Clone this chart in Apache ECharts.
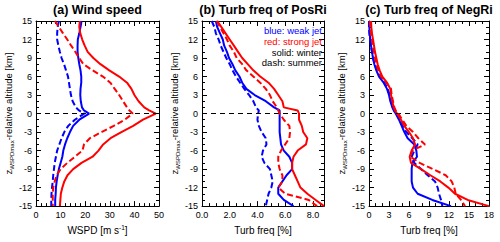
<!DOCTYPE html>
<html><head><meta charset="utf-8">
<script src="https://cdn.jsdelivr.net/npm/echarts@6/dist/echarts.min.js"></script>
<style>html,body{margin:0;padding:0;background:#fff}#c{width:500px;height:242px}</style>
</head><body><div id="c"></div>
<script>
// altitudes (km, relative to WSPDmax level)
const ALT = [15,14,13,12,11,10,9,8,7,6,5,4,3,2,1,0.5,0,-1,-2,-3,-4,-5,-6,-7,-8,-9,-10,-11,-12,-13,-14,-15];

// (a) Wind speed [m s-1]
const aWeakWinter   = [18.5,18.1,17.6,17.0,16.9,16.9,17.2,17.6,18.1,18.4,18.4,18.1,18.0,18.2,18.7,19.5,21.6,17.6,15.1,13.8,12.7,11.8,11.1,10.7,10.0,9.3,8.8,8.4,8.1,8.0,7.8,7.8];
const aWeakSummer   = [9.3,8.8,8.6,8.6,9.1,9.7,10.4,11.4,12.2,13.0,13.4,13.8,14.2,14.9,16.2,17.5,19.6,15.8,13.1,11.5,10.4,9.5,8.6,8.1,7.6,7.3,7.0,6.8,6.5,6.3,6.2,6.2];
const aStrongWinter = [17.8,17.6,18.0,18.8,19.8,21.0,23.3,26.2,29.8,33.8,37.0,38.8,40.0,41.7,44.0,46.0,48.7,43.5,39.5,34.7,30.3,27.3,25.4,23.0,18.5,15.1,12.8,11.5,10.7,10.1,9.9,9.7];
const aStrongSummer = [7.7,9.3,11.0,12.7,14.3,16.0,17.5,19.3,23.0,27.2,30.2,32.0,33.8,35.4,37.0,38.0,39.3,36.1,31.6,26.6,21.9,19.5,18.9,15.8,12.7,10.0,8.4,7.6,7.0,6.8,6.8,6.8];

// (b) Turb freq of PosRi [%]
const bWeakWinter   = [1.0,1.1,1.3,1.5,1.6,1.8,1.95,2.2,2.4,2.7,2.9,3.2,3.8,4.6,5.2,5.6,5.6,5.6,5.6,5.6,5.65,5.7,5.9,6.3,6.5,6.5,6.1,5.8,5.5,5.5,5.9,6.6];
const bWeakSummer   = [0.7,0.9,1.0,1.2,1.35,1.55,1.75,2.0,2.2,2.45,2.75,3.05,3.4,3.7,3.9,4.1,4.05,4.0,4.1,4.3,4.6,4.65,4.4,4.3,4.5,4.9,5.0,5.1,5.0,4.8,4.7,4.6];
const bStrongWinter = [1.1,1.4,1.7,2.0,2.3,2.6,2.9,3.3,3.7,4.2,4.8,5.2,5.5,5.8,5.9,6.9,7.0,7.0,7.2,7.3,7.6,7.5,6.9,6.6,6.5,6.5,6.7,6.9,7.1,7.6,8.2,8.8];
const bStrongSummer = [1.07,1.3,1.55,1.8,2.0,2.3,2.5,2.9,3.2,3.7,4.2,4.6,4.9,5.1,5.4,5.5,5.6,5.9,6.3,6.35,6.3,6.0,5.7,5.5,5.5,5.6,5.8,5.8,5.5,6.0,7.7,8.3];

// (c) Turb freq of NegRi [%]
const cWeakWinter   = [0.0,0.05,0.1,0.2,0.3,0.45,0.6,0.8,1.1,1.5,2.2,2.7,3.0,3.2,3.5,3.7,4.0,4.5,4.9,5.3,5.8,6.8,7.1,7.2,6.5,6.4,6.4,6.4,6.6,7.3,9.5,12.3];
const cWeakSummer   = [0.0,0.0,0.05,0.15,0.3,0.45,0.6,0.85,1.2,1.6,2.3,2.8,3.1,3.3,3.6,3.8,4.1,4.6,5.0,5.6,6.5,7.3,6.8,6.4,6.8,7.8,8.8,9.9,10.3,10.5,10.8,11.0];
const cStrongWinter = [0.3,0.35,0.45,0.6,0.75,0.9,1.1,1.3,1.6,2.0,2.7,3.2,3.3,3.5,3.7,3.9,4.2,4.8,5.3,6.0,6.6,6.9,6.4,6.1,6.3,7.8,9.2,10.7,11.9,12.9,14.8,18.0];
const cStrongSummer = [0.1,0.2,0.3,0.45,0.6,0.75,0.9,1.1,1.4,1.8,2.6,3.3,3.4,3.6,3.8,4.0,4.4,5.0,5.6,6.6,7.4,8.4,6.5,6.2,7.6,9.6,11.5,12.4,12.8,13.0,13.8,14.4];

const TITLES = ['(a) Wind speed','(b) Turb freq of PosRi','(c) Turb freq of NegRi'];
const XNAMES = ['WSPD [m s{sup|-1}]','Turb freq [%]','Turb freq [%]'];
const LEGEND_TEXT = ['blue: weak jet','red: strong jet','solid: winter','dash: summer'];
const LEGEND_COLOR = ['#0000ff','#ff0000','#000000','#000000'];

const FONT = 'Liberation Sans, Arial, Helvetica, sans-serif';
const BLUE = '#0000ff', RED = '#ff0000';

const grids = [
  {left:36, top:21, width:123, height:186},
  {left:202, top:21, width:122, height:186},
  {left:369, top:21, width:120, height:186}
];
const xCfg = [
  {min:0, max:50, interval:10, minor:5, fmt:v=>String(v)},
  {min:0, max:8.8, interval:2, minor:4, fmt:v=>v.toFixed(1)},
  {min:0, max:18, interval:3, minor:3, fmt:v=>String(v)}
];
const panelData = [
  [aWeakWinter,aWeakSummer,aStrongWinter,aStrongSummer],
  [bWeakWinter,bWeakSummer,bStrongWinter,bStrongSummer],
  [cWeakWinter,cWeakSummer,cStrongWinter,cStrongSummer]
];

const pairs = vals => vals.map((v,i)=>[v, ALT[i]]);
const tickLine = {color:'#000', width:1};

const xAxis = [], yAxis = [], series = [], graphic = [];
grids.forEach((g,i)=>{
  const c = xCfg[i];
  const common = {gridIndex:i, type:'value', min:c.min, max:c.max, interval:c.interval,
    axisLine:{show:true, onZero:false, lineStyle:tickLine},
    axisTick:{show:true, inside:true, length:5, lineStyle:tickLine},
    minorTick:{show:true, splitNumber:c.minor, length:3, lineStyle:tickLine},
    splitLine:{show:false}, minorSplitLine:{show:false}};
  xAxis.push(Object.assign({}, common, {position:'bottom',
    axisLabel:{show:true, fontSize:9, color:'#000', fontFamily:FONT, margin:4, formatter:c.fmt, showMaxLabel: i!==1},
    name: XNAMES[i], nameLocation:'middle', nameGap:17,
    nameTextStyle:{fontSize:10, color:'#000', fontFamily:FONT, lineHeight:13,
      rich:{sup:{fontSize:6.5, verticalAlign:'top', color:'#000', fontFamily:FONT, lineHeight:13}}}}));
  xAxis.push(Object.assign({}, common, {position:'top', axisLabel:{show:false}}));
  const ycommon = {gridIndex:i, type:'value', min:-15, max:15, interval:3,
    axisLine:{show:true, onZero:false, lineStyle:tickLine},
    axisTick:{show:true, inside:true, length:5, lineStyle:tickLine},
    minorTick:{show:true, splitNumber:3, length:3, lineStyle:tickLine},
    splitLine:{show:false}, minorSplitLine:{show:false}};
  yAxis.push(Object.assign({}, ycommon, {position:'left',
    axisLabel:{show:true, fontSize:9, color:'#000', fontFamily:FONT, margin:4},
    name:'{m|z}{s|WSPDmax}{m|-relative altitude [km]}', nameLocation:'middle', nameGap:21, nameRotate:90,
    nameTextStyle:{color:'#000', fontFamily:FONT, fontSize:9.5,
      rich:{m:{fontSize:9.5, fontFamily:FONT, color:'#000', lineHeight:13},
            s:{fontSize:6, fontFamily:FONT, color:'#000', verticalAlign:'bottom', lineHeight:13}}}}));
  yAxis.push(Object.assign({}, ycommon, {position:'right', axisLabel:{show:false}}));

  const styles = [[BLUE,'solid'],[BLUE,[6,3]],[RED,'solid'],[RED,[6,3]]];
  panelData[i].forEach((vals,k)=>{
    const s = {type:'line', xAxisIndex:2*i, yAxisIndex:2*i, data:pairs(vals),
      showSymbol:false, symbol:'none', smooth:false, animation:false, silent:true,
      lineStyle:{color:styles[k][0], width:2, type:styles[k][1]},
      itemStyle:{color:styles[k][0]}, z:2+k};
    if(k===0){
      s.markLine = {silent:true, symbol:['none','none'], label:{show:false}, animation:false,
        lineStyle:{color:'#000', type:[5,4], width:1}, data:[{yAxis:0}]};
    }
    series.push(s);
  });
  graphic.push({type:'text', x: g.left + g.width/2, y:10, z:10,
    style:{text:TITLES[i], font:'bold 12.5px '+FONT, fill:'#000', textAlign:'center', textVerticalAlign:'middle'}});
});
// legend text in panel (b), right aligned
LEGEND_TEXT.forEach((t,j)=>{
  graphic.push({type:'text', x: 322, y: 30.5 + j*10.8, z:10,
    style:{text:t, font:'9.5px '+FONT, fill:LEGEND_COLOR[j], textAlign:'right', textVerticalAlign:'middle'}});
});

const chart = echarts.init(document.getElementById('c'), null, {renderer:'svg', width:500, height:242});
chart.setOption({animation:false, backgroundColor:'#fff', grid:grids, xAxis, yAxis, series, graphic});
</script></body></html>
